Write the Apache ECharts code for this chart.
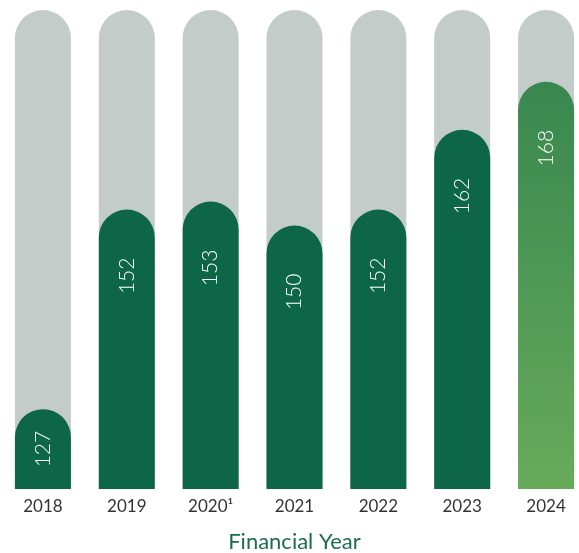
<!DOCTYPE html>
<html>
<head>
<meta charset="utf-8">
<script src="https://cdn.jsdelivr.net/npm/echarts@6/dist/echarts.min.js"></script>
<style>html,body{margin:0;padding:0;background:#fff}#c{width:579px;height:553px}</style>
</head>
<body>
<div id="c"></div>
<script>
var categories = ['2018', '2019', '2020¹', '2021', '2022', '2023', '2024'];
var values = [127, 152, 153, 150, 152, 162, 168];
var axisTitle = 'Financial Year';

var chart = echarts.init(document.getElementById('c'), null, {renderer: 'canvas'});
var FONT = 'Lato';
var data = values.map(function (v, i) {
  var item = {value: v};
  if (i === values.length - 1) {
    item.itemStyle = {
      color: new echarts.graphic.LinearGradient(0, 0, 0, 1, [
        {offset: 0, color: '#398750'},
        {offset: 1, color: '#67ab5a'}
      ])
    };
  }
  if (i === 0) {
    item.label = {position: 'inside', align: 'center', verticalAlign: 'middle'};
  }
  return item;
});
chart.setOption({
  animation: false,
  grid: {left: 1, right: -9, top: 10, bottom: 64, containLabel: false, outerBoundsMode: 'none'},
  xAxis: {
    type: 'category',
    data: categories,
    axisLine: {show: false},
    axisTick: {show: false},
    axisLabel: {color: '#333333', fontSize: 17, fontFamily: FONT, margin: 9},
    name: axisTitle,
    nameLocation: 'middle',
    nameGap: 42,
    nameTextStyle: {color: '#1d6b52', fontSize: 22, fontFamily: FONT}
  },
  yAxis: {
    type: 'value', min: 117, max: 177, show: false,
    splitLine: {show: false}
  },
  series: [{
    type: 'bar',
    data: data,
    barWidth: 56,
    showBackground: true,
    backgroundStyle: {color: '#c3ccc9', borderRadius: [28, 28, 0, 0]},
    itemStyle: {color: '#0e6648', borderRadius: [28, 28, 0, 0]},
    label: {
      show: true,
      position: 'insideTop',
      distance: 48,
      rotate: 90,
      align: 'right',
      verticalAlign: 'middle',
      color: '#ffffff',
      fontSize: 21,
      fontWeight: 300,
      fontFamily: FONT
    }
  }]
});
</script>
</body>
</html>
